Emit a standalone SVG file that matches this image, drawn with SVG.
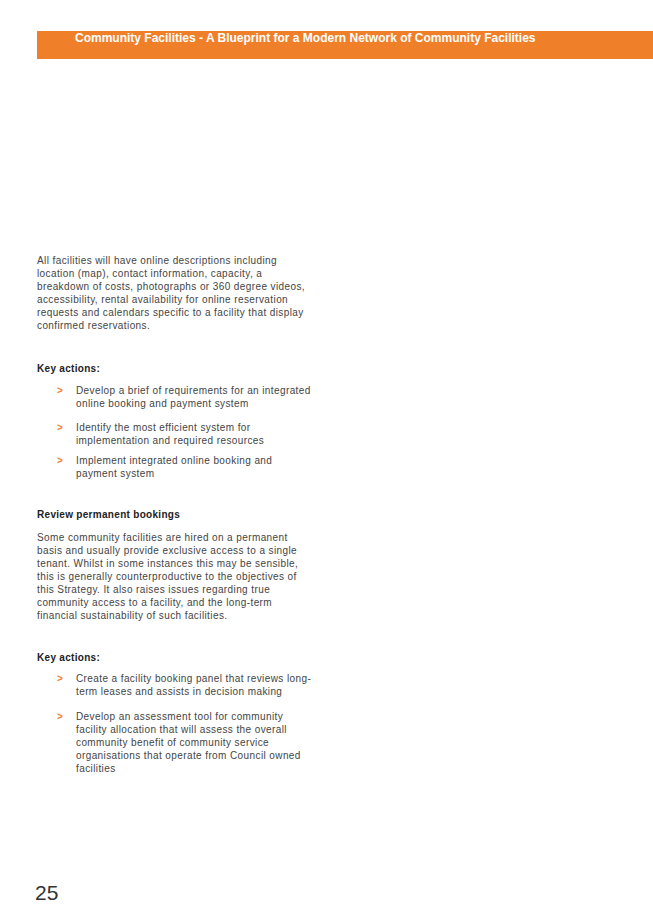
<svg xmlns="http://www.w3.org/2000/svg" width="653" height="923" viewBox="0 0 653 923">
<style>
text{font-family:"Liberation Sans",Arial,sans-serif;fill:#444;font-size:10px;letter-spacing:0.4px}
.h{font-weight:bold;fill:#222;letter-spacing:0.3px}
.b{fill:#f07f2a;font-weight:bold}
</style>
<rect width="653" height="923" fill="#fff"/>
<g id="header">
<rect x="37" y="31" width="616" height="28" fill="#f07f2a"/>
<text x="75" y="42" style="fill:#fff;font-weight:bold;font-size:12px;letter-spacing:0">Community Facilities - A Blueprint for a Modern Network of Community Facilities</text>
</g>
<g id="intro">
<text x="37" y="264">All facilities will have online descriptions including</text>
<text x="37" y="277">location (map), contact information, capacity, a</text>
<text x="37" y="290">breakdown of costs, photographs or 360 degree videos,</text>
<text x="37" y="303">accessibility, rental availability for online reservation</text>
<text x="37" y="316">requests and calendars specific to a facility that display</text>
<text x="37" y="329">confirmed reservations.</text>
</g>
<g id="actions1">
<text class="h" x="37" y="372">Key actions:</text>
<text class="b" x="57" y="394">&gt;</text>
<text x="76" y="394">Develop a brief of requirements for an integrated</text>
<text x="76" y="407">online booking and payment system</text>
<text class="b" x="57" y="431">&gt;</text>
<text x="76" y="431">Identify the most efficient system for</text>
<text x="76" y="444">implementation and required resources</text>
<text class="b" x="57" y="464">&gt;</text>
<text x="76" y="464">Implement integrated online booking and</text>
<text x="76" y="477">payment system</text>
</g>
<g id="review">
<text class="h" x="37" y="518">Review permanent bookings</text>
<text x="37" y="541">Some community facilities are hired on a permanent</text>
<text x="37" y="554">basis and usually provide exclusive access to a single</text>
<text x="37" y="567">tenant. Whilst in some instances this may be sensible,</text>
<text x="37" y="580">this is generally counterproductive to the objectives of</text>
<text x="37" y="593">this Strategy. It also raises issues regarding true</text>
<text x="37" y="606">community access to a facility, and the long-term</text>
<text x="37" y="619">financial sustainability of such facilities.</text>
</g>
<g id="actions2">
<text class="h" x="37" y="661">Key actions:</text>
<text class="b" x="57" y="682">&gt;</text>
<text x="76" y="682">Create a facility booking panel that reviews long-</text>
<text x="76" y="695">term leases and assists in decision making</text>
<text class="b" x="57" y="720">&gt;</text>
<text x="76" y="720">Develop an assessment tool for community</text>
<text x="76" y="733">facility allocation that will assess the overall</text>
<text x="76" y="746">community benefit of community service</text>
<text x="76" y="759">organisations that operate from Council owned</text>
<text x="76" y="772">facilities</text>
</g>
<g id="page"><text x="35" y="900" style="font-size:21px;fill:#333;letter-spacing:0">25</text></g>
</svg>
